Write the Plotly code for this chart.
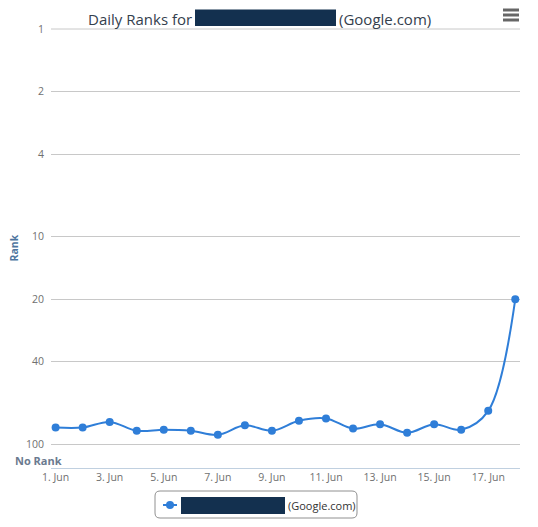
import plotly.graph_objects as go
import pandas as pd
import numpy as np

# daily ranks (lower number = better rank)
dates = ["2014-06-01", "2014-06-02", "2014-06-03", "2014-06-04", "2014-06-05",
         "2014-06-06", "2014-06-07", "2014-06-08", "2014-06-09", "2014-06-10",
         "2014-06-11", "2014-06-12", "2014-06-13", "2014-06-14", "2014-06-15",
         "2014-06-16", "2014-06-17", "2014-06-18"]
ranks = [83, 83, 78, 86, 85, 86, 90, 81, 86, 77, 75, 84, 80, 88, 80, 85, 69, 20]

rank_ticks = [1, 2, 4, 10, 20, 40, 100]
rank_labels = ["1", "2", "4", "10", "20", "40", "100"]
no_rank = 120
rank_floor = 130

site = "(Google.com)"
redacted = "#13304f"
blue = "#2f7ed8"

# the page body has an 8px margin, so the figure is drawn 8px in from the window corner
OFF = 8
W, H = 530, 519
L, R, T, B = 43, 18, 21, 59
pw, ph = W - L - R, H - T - B


def px_x(x):
    # window pixel -> paper x
    return (x - OFF - L) / pw


def px_y(y):
    # window pixel -> paper y
    return 1 - (y - OFF - T) / ph


def rounded_rect(x0, y0, x1, y1, r):
    rx, ry = r / pw, r / ph
    a, b = px_x(x0), px_x(x1)
    top, bot = px_y(y0), px_y(y1)
    return (f"M {a + rx} {top} L {b - rx} {top} Q {b} {top} {b} {top - ry} "
            f"L {b} {bot + ry} Q {b} {bot} {b - rx} {bot} "
            f"L {a + rx} {bot} Q {a} {bot} {a} {bot + ry} "
            f"L {a} {top - ry} Q {a} {top} {a + rx} {top} Z")


fig = go.Figure()

fig.add_scatter(
    x=pd.to_datetime(dates), y=ranks,
    mode="lines+markers", name=site,
    line=dict(color=blue, width=2, shape="spline"),
    marker=dict(color=blue, size=8),
)

start = pd.Timestamp(dates[0]) - pd.Timedelta(hours=4.1)
end = pd.Timestamp(dates[-1]) + pd.Timedelta(hours=4.2)

fig.update_xaxes(
    type="date", range=[start, end],
    tick0=dates[0], dtick=2 * 86400000, tickformat="%-d. %b",
    showgrid=False, showline=True, linecolor="#C0D0E0", linewidth=1,
    ticks="", ticklabelstandoff=-1,
    tickfont=dict(size=10.5, color="#707070"),
    zeroline=False,
)
fig.update_yaxes(
    type="log", range=[np.log10(rank_floor), 0],
    tickvals=rank_ticks, ticktext=rank_labels,
    showgrid=True, gridcolor="#C8C8C8", gridwidth=1,
    showline=False, zeroline=False, ticks="",
    ticklabelstandoff=6,
    tickfont=dict(size=10.5, color="#707070"),
)

# top grid line (rank 1 sits on the plot edge)
fig.add_shape(type="line", xref="paper", yref="paper", x0=0, x1=1, y0=1, y1=1,
              line=dict(color="#C8C8C8", width=1))

# title with the redacted part as a box (kept inside the figure's top edge)
title_font = dict(family="Open Sans", size=15, color="#34404d")
for text, xw, anchor in [("Daily Ranks for", 193, "right"), (site, 338, "left")]:
    fig.add_annotation(x=px_x(xw), y=px_y(OFF), xref="paper", yref="paper",
                       text=text, showarrow=False, borderpad=0,
                       xanchor=anchor, yanchor="top", font=title_font)
fig.add_shape(type="rect", xref="paper", yref="paper",
              x0=px_x(195), x1=px_x(336), y0=px_y(26), y1=px_y(9.5),
              fillcolor=redacted, line_width=0)

# axis title and the "No Rank" label
fig.add_annotation(x=0, y=0.5, xref="paper", yref="paper", xshift=13 - OFF - L,
                   xanchor="center", yanchor="middle",
                   text="<b>Rank</b>", textangle=-90, showarrow=False,
                   font=dict(family="Open Sans", size=10.5, color="#4d759e"))
fig.add_annotation(x=0, y=np.log10(no_rank), xref="paper", yref="y",
                   xshift=38 - OFF - L, xanchor="center", yanchor="middle",
                   text="<b>No Rank</b>", showarrow=False,
                   font=dict(family="Open Sans", size=11, color="#6b7a8f"))

# menu icon
for yy in [10, 15, 20]:
    fig.add_shape(type="line", xref="paper", yref="paper",
                  x0=px_x(503), x1=px_x(519), y0=px_y(yy), y1=px_y(yy),
                  line=dict(color="#666666", width=3))

# grey strip on the right edge
fig.add_shape(type="rect", xref="paper", yref="paper",
              x0=px_x(530), x1=px_x(540), y0=px_y(540), y1=px_y(0),
              fillcolor="#f2f2f2", line_width=0, layer="below")

# legend box drawn by hand (rounded border, short symbol, redacted name)
fig.add_shape(type="path", xref="paper", yref="paper",
              path=rounded_rect(155, 491, 357, 518, 5),
              fillcolor="white", line=dict(color="#909090", width=1))
fig.add_shape(type="line", xref="paper", yref="paper",
              x0=px_x(163), x1=px_x(177), y0=px_y(505), y1=px_y(505),
              line=dict(color=blue, width=2))
fig.add_shape(type="circle", xref="paper", yref="paper",
              x0=px_x(166), x1=px_x(174), y0=px_y(509), y1=px_y(501),
              fillcolor=blue, line_width=0)
fig.add_shape(type="rect", xref="paper", yref="paper",
              x0=px_x(181), x1=px_x(285), y0=px_y(514), y1=px_y(497),
              fillcolor=redacted, line_width=0)
fig.add_annotation(x=px_x(286), y=px_y(505), xref="paper", yref="paper",
                   text=site, showarrow=False, xanchor="left", yanchor="middle",
                   font=dict(family="Open Sans", size=11, color="#333333"))

fig.update_layout(
    width=W, height=H,
    margin=dict(l=L, r=R, t=T, b=B),
    plot_bgcolor="white", paper_bgcolor="white",
    font=dict(family="Open Sans", color="#333333"),
    showlegend=False,
)

fig.write_html("out.html")
